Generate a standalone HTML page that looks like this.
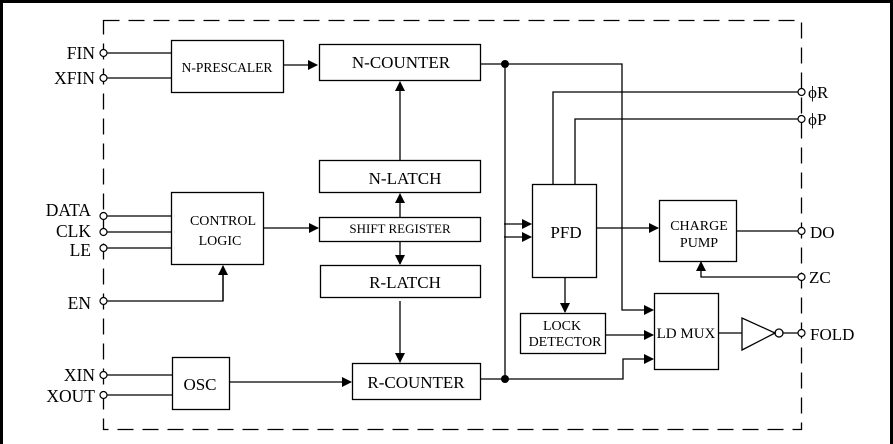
<!DOCTYPE html>
<html><head><meta charset="utf-8"><style>
html,body{margin:0;padding:0;background:#fff;}
svg{display:block;}
text{font-family:"Liberation Serif",serif;fill:#000;}
</style></head><body>
<svg width="893" height="444" viewBox="0 0 893 444" xmlns="http://www.w3.org/2000/svg">
<defs>
<marker id="a" markerWidth="10" markerHeight="10" refX="9" refY="5" orient="auto" markerUnits="userSpaceOnUse">
<path d="M0,0 L10,5 L0,10 z" fill="#000"/></marker>
</defs>
<rect x="0" y="0" width="893" height="444" fill="#fff"/>
<rect x="1.5" y="1.5" width="890" height="450" fill="none" stroke="#000" stroke-width="3"/>
<rect x="103.5" y="20.5" width="698" height="409" fill="none" stroke="#000" stroke-width="1.3" stroke-dasharray="16,9"/>
<g stroke="#000" stroke-width="1.3" fill="none">
<rect x="171.5" y="40.5" width="112" height="52"/>
<rect x="319.5" y="44.5" width="161" height="36"/>
<rect x="319.5" y="160.5" width="161" height="32"/>
<rect x="319.5" y="217.5" width="161" height="24"/>
<rect x="320.5" y="265.5" width="160" height="32"/>
<rect x="352.5" y="363.5" width="128" height="36"/>
<rect x="171.5" y="192.5" width="92" height="72"/>
<rect x="172.5" y="357.5" width="57" height="52"/>
<rect x="532.5" y="184.5" width="64" height="93"/>
<rect x="659.5" y="200.5" width="77" height="61"/>
<rect x="520.5" y="313.5" width="85" height="40"/>
<rect x="654.5" y="293.5" width="64" height="76"/>
<path d="M107,53H171M107,78H171M107,216H171M107,232H171M107,248H171M107,301H223V270M107,375H172M107,395H172"/>
<path d="M283,65H317" marker-end="url(#a)"/>
<path d="M400,160V82" marker-end="url(#a)"/>
<path d="M400,217V194" marker-end="url(#a)"/>
<path d="M400,241V264" marker-end="url(#a)"/>
<path d="M400,301V362" marker-end="url(#a)"/>
<path d="M263,228H318" marker-end="url(#a)"/>
<path d="M229,382H351" marker-end="url(#a)"/>
<path d="M223,301V266" marker-end="url(#a)"/>
<path d="M480,64H622V310H653" marker-end="url(#a)"/>
<path d="M480,379H623V359H653" marker-end="url(#a)"/>
<path d="M505,64V379"/>
<path d="M504,224H531" marker-end="url(#a)"/>
<path d="M504,237H531" marker-end="url(#a)"/>
<path d="M553,184V92H798M575,184V119H798"/>
<path d="M596,228H658" marker-end="url(#a)"/>
<path d="M736,231H798"/>
<path d="M798,277H701V262" marker-end="url(#a)"/>
<path d="M565,277V312" marker-end="url(#a)"/>
<path d="M605,335H653" marker-end="url(#a)"/>
<path d="M718,333H742M783,333H798"/>
<path d="M742,318V350L775,333Z"/>
<circle cx="779" cy="333" r="4"/>
</g>
<g stroke="#000" stroke-width="1.2" fill="#fff">
<circle cx="103.5" cy="53" r="3.5"/><circle cx="103.5" cy="78" r="3.5"/>
<circle cx="103.5" cy="216" r="3.5"/><circle cx="103.5" cy="232" r="3.5"/>
<circle cx="103.5" cy="248" r="3.5"/><circle cx="103.5" cy="301" r="3.5"/>
<circle cx="103.5" cy="375" r="3.5"/><circle cx="103.5" cy="395" r="3.5"/>
<circle cx="801.5" cy="92" r="3.5"/><circle cx="801.5" cy="119" r="3.5"/>
<circle cx="801.5" cy="231" r="3.5"/><circle cx="801.5" cy="277" r="3.5"/>
<circle cx="801.5" cy="333" r="3.5"/>
</g>
<circle cx="505" cy="64" r="4" fill="#000"/>
<circle cx="505" cy="379" r="4" fill="#000"/>
<g font-size="17.5" text-anchor="end">
<text x="95" y="59">FIN</text><text x="95" y="84">XFIN</text>
<text x="91" y="216">DATA</text><text x="91" y="237">CLK</text><text x="91" y="256">LE</text>
<text x="91" y="309">EN</text><text x="95" y="381">XIN</text><text x="95" y="402">XOUT</text>
</g>
<g font-size="17">
<text x="808" y="98">ϕR</text><text x="808" y="125">ϕP</text>
<text x="810" y="238">DO</text><text x="809" y="283">ZC</text><text x="810" y="340">FOLD</text>
</g>
<g text-anchor="middle">
<text x="227" y="72" font-size="13.5">N-PRESCALER</text>
<text x="401" y="68" font-size="17">N-COUNTER</text>
<text x="405" y="184" font-size="17">N-LATCH</text>
<text x="400" y="233" font-size="13">SHIFT REGISTER</text>
<text x="405" y="288" font-size="17">R-LATCH</text>
<text x="416" y="388" font-size="17">R-COUNTER</text>
<text x="223" y="225" font-size="14">CONTROL</text>
<text x="220" y="245" font-size="14">LOGIC</text>
<text x="200" y="390" font-size="17">OSC</text>
<text x="566" y="238" font-size="17">PFD</text>
<text x="699" y="230" font-size="14">CHARGE</text>
<text x="699" y="247" font-size="14">PUMP</text>
<text x="562" y="330" font-size="14">LOCK</text>
<text x="565" y="346" font-size="14">DETECTOR</text>
<text x="686" y="338" font-size="15">LD MUX</text>
</g>
</svg>
</body></html>
